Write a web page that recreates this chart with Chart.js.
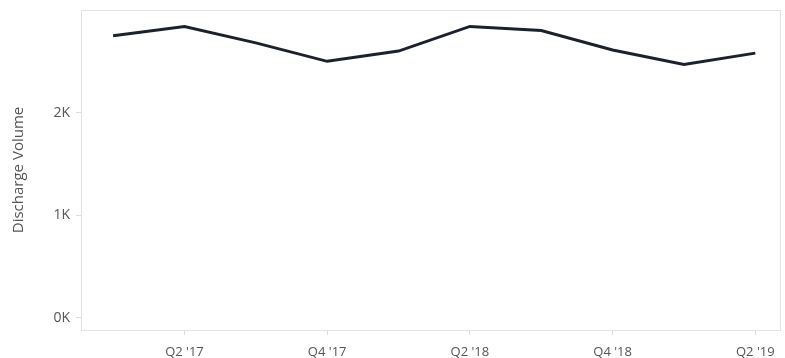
<!DOCTYPE html>
<html>
<head>
<meta charset="utf-8">
<script src="https://cdn.jsdelivr.net/npm/chart.js@4"></script>
<style>
  html, body { margin: 0; padding: 0; background: #fff; }
  #wrap { width: 785px; height: 358px; }
</style>
</head>
<body>
<div id="wrap"><canvas id="volumeChart"></canvas></div>
<script>
// Quarterly discharge volume
const quarters = ["Q1 '17", "Q2 '17", "Q3 '17", "Q4 '17", "Q1 '18", "Q2 '18", "Q3 '18", "Q4 '18", "Q1 '19", "Q2 '19"];
const dischargeVolume = [2750, 2840, 2680, 2500, 2600, 2840, 2800, 2610, 2470, 2580];
const shownQuarters = [1, 3, 5, 7, 9];
const yTicks = [0, 1000, 2000];

const labelColor = '#555';
const frameColor = '#e3e3e3';

// light frame round the plot area
const framePlugin = {
    id: 'frame',
    afterDraw(chart) {
        const a = chart.chartArea;
        const ctx = chart.ctx;
        ctx.save();
        ctx.strokeStyle = frameColor;
        ctx.lineWidth = 1;
        ctx.strokeRect(a.left + 0.5, a.top + 0.5, a.right - a.left - 1, a.bottom - a.top);
        ctx.restore();
    }
};

function initVolumeChart() {
    const ctx = document.getElementById('volumeChart').getContext('2d');

    new Chart(ctx, {
        type: 'line',
        data: {
            datasets: [{
                label: 'Discharge Volume',
                data: dischargeVolume.map((v, i) => ({ x: i, y: v })),
                borderColor: '#1c222d',
                borderWidth: 3,
                pointRadius: 0,
                tension: 0,
                fill: false
            }]
        },
        plugins: [framePlugin],
        options: {
            responsive: true,
            maintainAspectRatio: false,
            animation: false,
            layout: { padding: { top: 0, right: 4, left: 0, bottom: 0 } },
            plugins: {
                legend: { display: false },
                tooltip: { enabled: false }
            },
            scales: {
                x: {
                    type: 'linear',
                    min: -0.45,
                    max: 9.36,
                    afterBuildTicks: scale => {
                        scale.ticks = shownQuarters.map(v => ({ value: v }));
                    },
                    afterFit: scale => { scale.height = 28; },
                    border: { display: false },
                    grid: {
                        drawOnChartArea: false,
                        tickLength: 5,
                        color: '#dcdcdc'
                    },
                    ticks: {
                        color: labelColor,
                        font: { family: 'Open Sans', size: 13 },
                        padding: 9,
                        maxRotation: 0,
                        autoSkip: false,
                        callback: v => quarters[v]
                    }
                },
                y: {
                    min: -117,
                    max: 3000,
                    afterBuildTicks: scale => {
                        scale.ticks = yTicks.map(v => ({ value: v }));
                    },
                    afterFit: scale => {
                        scale.width = 81;
                        scale.paddingTop = 10;
                        scale.paddingBottom = 0;
                    },
                    border: { display: false },
                    grid: {
                        drawOnChartArea: false,
                        tickLength: 5,
                        color: '#dcdcdc'
                    },
                    title: {
                        display: true,
                        text: 'Discharge Volume',
                        color: labelColor,
                        font: { family: 'Open Sans', size: 15 },
                        padding: { top: 10, bottom: 0 }
                    },
                    ticks: {
                        color: labelColor,
                        font: { family: 'Open Sans', size: 14 },
                        padding: 6,
                        callback: v => (v / 1000) + 'K'
                    }
                }
            }
        }
    });
}

document.addEventListener('DOMContentLoaded', function() {
    if (document.getElementById('volumeChart')) {
        initVolumeChart();
    }
});
</script>
</body>
</html>
